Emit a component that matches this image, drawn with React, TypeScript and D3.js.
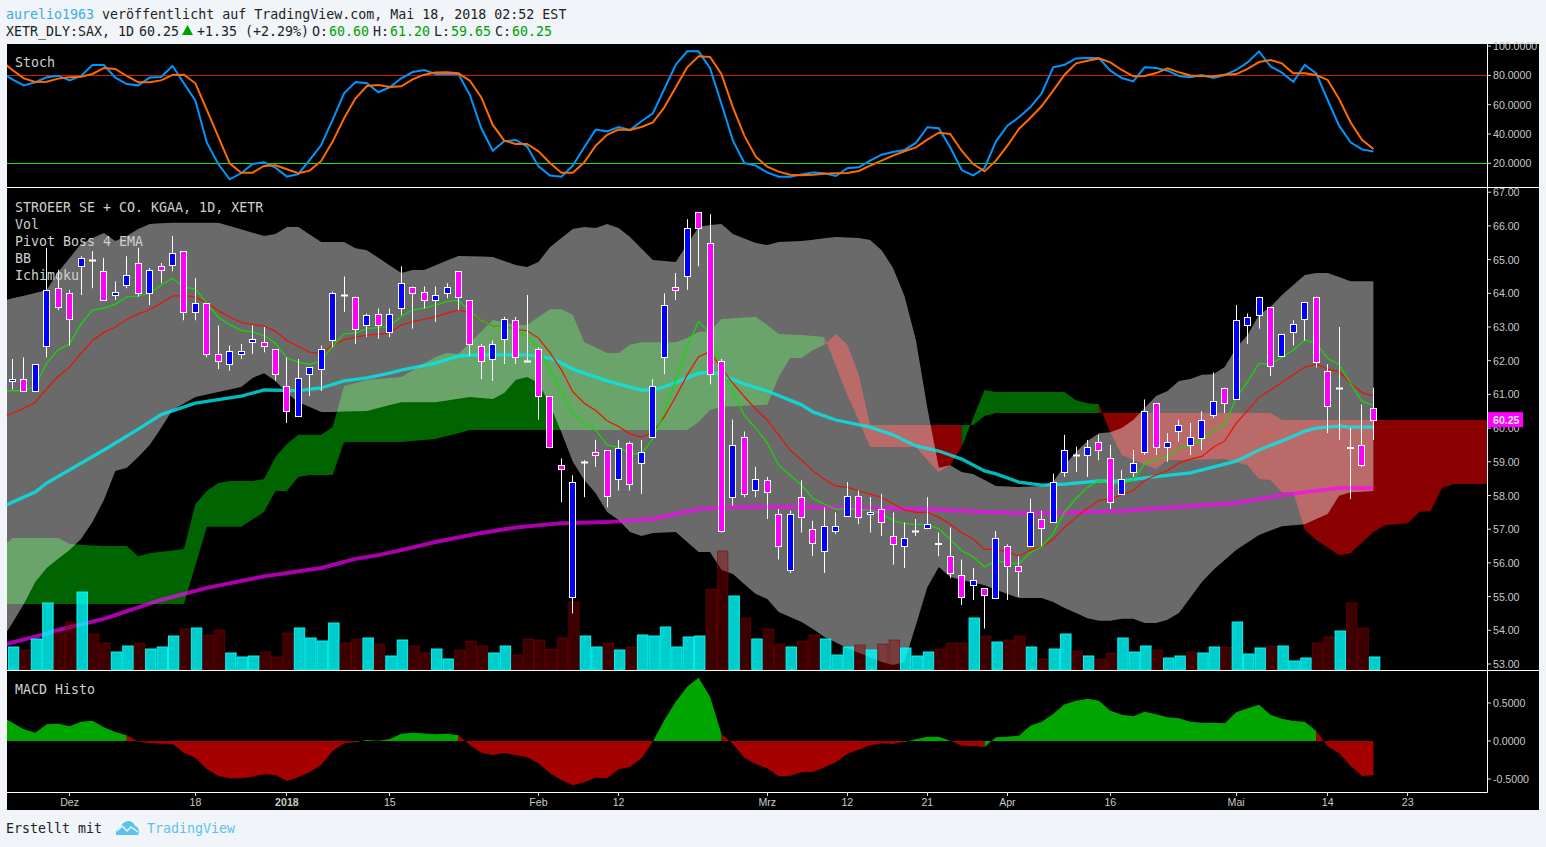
import React from "react";
import * as d3 from "d3";

// ---------- candles (bar 0 .. 119) ----------
const opens = [61.4,61.45,61.1,62.45,64.15,64.0,64.8,65.0,64.65,63.95,64.25,64.9,64.0,64.8,64.85,65.25,63.45,63.7,62.2,61.9,62.2,62.55,62.55,62.35,61.25,60.35,61.6,61.75,62.6,63.95,63.9,63.05,63.4,62.85,63.55,64.2,64.05,63.8,64.0,64.65,63.8,62.45,62.05,62.65,63.2,62.0,62.35,60.95,58.9,55.0,59.0,59.3,59.35,58.5,59.55,58.95,59.75,62.1,64.2,64.5,66.4,65.5,62.0,57.95,59.75,58.15,58.45,57.45,55.8,57.95,57.0,56.35,56.95,57.4,58.0,57.45,57.6,56.8,56.5,56.95,57.05,56.6,56.2,55.65,55.35,55.25,54.95,56.5,55.9,56.5,57.3,57.2,58.7,59.2,59.2,59.6,59.1,58.05,58.7,59.3,60.75,59.45,59.9,59.5,59.7,60.4,61.2,60.85,63.05,63.35,63.6,62.15,62.85,63.25,63.9,61.7,61.2,59.4,59.5,60.6];
const closes = [61.45,61.1,61.9,64.1,63.6,63.25,65.05,65.0,63.8,64.05,64.55,64.0,64.7,64.7,65.2,63.45,63.7,62.2,62.0,62.3,62.3,62.65,62.45,61.6,60.5,61.5,61.8,62.35,64.0,63.95,62.95,63.35,63.05,63.4,64.3,64.0,63.8,63.95,64.2,63.9,62.5,62.0,62.5,63.25,62.1,62.0,60.95,59.45,58.8,58.4,59.0,59.2,58.0,59.4,58.35,59.3,61.25,63.65,64.1,65.95,65.95,61.6,56.95,59.5,58.05,58.5,58.1,56.5,57.45,57.35,56.6,57.1,57.1,58.0,57.35,57.5,57.2,56.55,56.75,56.95,57.15,56.55,55.7,55.0,55.5,55.05,56.75,55.9,55.75,57.5,57.05,58.4,59.35,59.2,59.45,59.35,57.8,58.5,58.95,60.5,59.45,59.6,60.1,59.75,60.25,60.8,60.75,63.2,63.3,63.9,61.85,62.8,63.1,63.75,61.95,60.65,61.2,59.45,58.9,60.25];
const highs = [62.05,62.1,61.9,65.35,64.7,64.1,65.1,65.25,65.05,64.35,65.1,65.35,64.75,64.9,65.7,65.25,64.45,63.7,63.05,62.45,62.5,63.05,63.0,62.35,62.1,62.05,61.8,62.45,64.05,64.5,63.9,63.4,63.55,63.55,64.8,64.2,64.2,64.2,64.3,64.65,63.8,62.5,62.6,63.3,63.3,63.95,62.4,60.95,59.1,58.6,59.05,59.65,59.35,59.65,59.6,59.65,61.45,64.0,64.6,66.2,66.4,66.35,62.05,60.25,59.9,58.85,58.55,57.6,57.55,58.45,57.25,57.65,57.5,58.4,58.15,57.95,58.05,57.5,57.2,57.3,57.95,56.9,57.05,56.1,55.85,55.25,56.95,56.55,56.2,57.9,57.55,58.65,59.8,59.45,59.65,59.8,59.5,58.75,59.35,60.85,60.75,59.85,60.25,60.15,60.5,61.65,61.2,63.65,63.4,63.9,63.6,62.8,63.2,63.75,63.9,61.9,63.0,60.0,60.7,61.2];
const lows = [61.15,61.1,61.1,62.1,63.5,62.45,63.95,64.15,63.8,63.8,64.15,63.9,63.65,64.3,64.65,63.2,63.2,62.1,61.75,61.7,62.05,62.2,62.25,61.4,60.15,60.35,60.95,61.1,62.4,63.45,62.5,62.7,62.65,62.7,63.35,62.95,63.55,63.15,63.85,63.5,62.15,61.45,61.4,61.9,61.9,61.95,60.25,59.4,57.8,54.5,57.95,58.85,57.65,58.15,58.15,58.05,59.7,61.6,63.8,64.1,64.8,61.3,56.9,57.7,57.95,57.95,57.3,56.1,55.7,56.9,56.2,55.7,56.85,57.4,57.15,56.9,56.8,55.95,55.85,56.8,57.0,56.2,55.55,54.75,54.9,54.05,54.95,54.9,55.0,56.5,56.5,57.2,58.55,58.7,58.55,59.05,57.6,58.05,58.55,59.2,59.2,59.0,59.6,59.2,59.35,60.3,60.45,60.85,62.5,62.95,61.55,62.15,62.45,62.6,61.8,59.85,59.65,57.9,58.85,59.65];

// ---------- volume (bar 0 .. 119), arbitrary units ----------
const volumes = [23,20,31,67,38,48,78,36,27,18,24,27,21,23,34,41,42,35,40,17,13,14,18,13,37,42,32,29,47,27,31,32,26,14,30,24,17,21,11,20,29,24,17,24,15,31,30,21,32,68,34,23,27,20,23,35,34,43,23,33,34,81,119,74,52,31,41,26,23,29,35,31,15,23,25,20,26,30,22,14,18,21,27,27,52,34,28,30,34,23,11,21,36,19,14,11,17,32,18,24,20,12,14,18,17,23,23,48,16,22,24,24,9,12,27,33,39,67,42,13];
const volumeUp = [1,0,1,1,0,0,1,0,0,1,1,0,1,1,1,0,1,0,0,1,1,1,0,0,0,1,1,1,1,0,0,1,0,1,1,0,0,1,1,0,0,0,1,1,0,0,0,0,0,0,1,1,0,1,0,1,1,1,1,1,1,0,0,1,0,1,0,0,1,0,0,1,1,1,0,1,0,0,1,1,1,0,0,0,1,0,1,0,0,1,0,1,1,0,1,0,0,1,1,1,0,1,1,0,1,1,0,1,1,1,0,1,1,1,0,0,1,0,0,1];

// ---------- per-bar lines (bar -1 .. 119) ----------
const pivotFast = [61.08,61.11,61.11,61.24,61.93,62.32,62.5,63.09,63.5,63.56,63.68,63.89,63.92,64.0,64.24,64.45,64.18,64.13,63.71,63.29,63.07,62.9,62.85,62.75,62.52,62.08,61.96,61.89,61.99,62.42,62.8,62.82,62.95,62.98,63.03,63.31,63.51,63.56,63.65,63.76,63.79,63.46,63.19,63.03,63.01,62.91,62.72,62.37,61.72,61.08,60.43,60.16,59.94,59.5,59.43,59.25,59.23,59.69,60.48,61.42,62.42,63.16,62.81,61.73,61.08,60.38,59.99,59.56,58.9,58.6,58.31,57.91,57.74,57.59,57.62,57.59,57.57,57.47,57.25,57.17,57.14,57.14,57.01,56.7,56.36,56.18,55.88,56.06,56.01,55.98,56.3,56.48,56.87,57.52,57.91,58.24,58.44,58.35,58.35,58.46,58.94,59.06,59.17,59.4,59.48,59.65,59.93,60.1,60.89,61.38,61.92,61.88,62.1,62.32,62.62,62.52,62.07,61.89,61.33,60.8,60.67];
const pivotSlow = [60.3,60.44,60.59,60.76,61.17,61.53,61.81,62.22,62.6,62.84,63.0,63.23,63.39,63.51,63.71,63.92,63.93,63.89,63.71,63.49,63.29,63.14,63.07,63.03,62.87,62.6,62.42,62.25,62.22,62.47,62.62,62.7,62.76,62.79,62.82,63.06,63.16,63.23,63.31,63.41,63.51,63.41,63.19,63.03,63.01,62.93,62.89,62.67,62.24,61.73,61.08,60.74,60.52,60.22,60.05,59.83,59.73,59.87,60.34,60.93,61.58,62.12,62.27,61.78,61.33,60.93,60.56,60.24,59.79,59.35,59.05,58.73,58.48,58.28,58.24,58.14,58.04,57.94,57.76,57.57,57.5,57.5,57.35,57.15,56.9,56.71,56.4,56.4,56.33,56.2,56.38,56.48,56.7,57.06,57.35,57.62,57.86,57.9,58.02,58.15,58.44,58.61,58.74,58.96,59.08,59.16,59.43,59.62,60.14,60.52,60.92,61.13,61.35,61.58,61.81,61.9,61.75,61.68,61.33,61.06,60.95];
const stochK = [82,77.3,73.2,75.3,78.7,79.8,76.6,79.6,87.1,87.1,78.5,74.1,73.2,78.5,78.9,86.4,74.6,62.8,34.1,19.5,9.1,13.2,19.5,20.7,17.0,10.9,12.7,22.3,32.5,49.6,67.8,75.5,74.6,68.5,71.9,78,82.3,83.7,81,81,81,66.6,43.9,28.6,35,35.9,31.4,17.9,11.6,10.9,18.4,30.9,43,41.8,44.8,42.7,48.7,54.1,70.7,87.3,96.4,96.4,85,60.5,35.5,20.2,18.4,13.8,10.9,10.9,12.3,13.8,13.2,11.3,16.6,17.3,21.8,25.9,27.7,29.1,33.9,44.6,43.9,30.9,15.4,11.8,16.8,35,45.7,51.4,58.2,67.8,85.5,87.3,91.6,91.9,91.9,83.2,78.2,75.9,85.5,85,83.2,79.6,78.7,80.3,78.2,80.3,83.7,88.9,96.4,86.2,81.9,75.7,87.1,81.4,63.2,45.7,34.3,29.5,28];
const stochD = [90,83.7,78,75.5,75.7,77.8,78.7,79.1,81,85.1,84.4,79.6,75.3,75.3,76.6,80.3,80.5,74.6,56.4,38.2,20,13.6,13.6,18.2,18.6,15.9,13.2,15,21.6,34.8,50.7,64.4,72.8,73.5,72.1,72.6,77.3,80.5,81.9,82.1,81.4,76.4,65,46.2,35.5,33.2,33.2,28.2,20.2,13.6,13.6,20.7,32,39.5,43,42.7,44.8,47.9,58.2,71.9,85.5,93,92.6,80.9,58.2,38.9,24.5,17.7,14.3,12.2,11.8,12.2,12.9,13.2,13.4,14.8,18.4,21.8,25.2,28.2,30.9,36.1,40.9,40,28.6,19.5,14.5,21.8,32,43.4,50.9,59.1,69.6,80.5,88.2,90,91.6,88.9,83.7,79.4,79.6,81.6,84.8,82.1,80,79.6,79.4,80.5,80.9,84.4,89.1,90.5,88.2,81.4,81.4,80.3,76.9,63.9,48,36.1,29.8];
const macdHist = [0.33,0.241,0.153,0.11,0.22,0.228,0.193,0.254,0.268,0.18,0.118,0.075,-0.005,-0.026,-0.035,-0.04,-0.154,-0.224,-0.368,-0.46,-0.491,-0.491,-0.469,-0.439,-0.447,-0.526,-0.478,-0.408,-0.316,-0.132,-0.031,-0.013,0.013,0.004,0.026,0.096,0.11,0.1,0.088,0.096,0.075,-0.053,-0.154,-0.184,-0.158,-0.184,-0.215,-0.294,-0.425,-0.513,-0.583,-0.544,-0.482,-0.491,-0.373,-0.342,-0.228,-0.005,0.276,0.518,0.715,0.833,0.583,0.092,-0.04,-0.219,-0.303,-0.36,-0.465,-0.456,-0.412,-0.408,-0.346,-0.281,-0.167,-0.114,-0.057,-0.031,-0.039,-0.013,0.022,0.057,0.057,0.004,-0.061,-0.066,-0.079,0.048,0.057,0.07,0.202,0.254,0.355,0.482,0.531,0.557,0.531,0.399,0.346,0.325,0.386,0.351,0.311,0.298,0.254,0.241,0.241,0.232,0.377,0.43,0.478,0.346,0.294,0.263,0.254,0.132,-0.07,-0.162,-0.325,-0.46,-0.452];

// ---------- lines read at their visible corners: bar numbers, then values ----------
const ema100Bars = [-1,2,3,8,11,13,14,16,20,22,25,27,29,31,33,34,37,39,41,45,47,48,49,52,55,56,57,59,60,61,62,64,66,69,70,72,75,77,79,81,83,85,86,88,90,92,95,97,99,103,106,107,109,111,113,114,116,117,119];
const ema100Vals = [57.65,58.1,58.37,59.35,59.97,60.4,60.51,60.74,60.95,61.13,61.11,61.19,61.4,61.49,61.63,61.72,61.93,62.14,62.17,62.17,62.08,61.93,61.75,61.4,61.13,61.13,61.22,61.49,61.63,61.66,61.58,61.31,61.1,60.69,60.48,60.24,60.03,59.8,59.47,59.32,59.08,58.73,58.64,58.4,58.31,58.34,58.43,58.43,58.52,58.67,58.93,59.02,59.35,59.62,59.91,60.0,60.06,60.03,60.03];
const ema200Bars = [-1,3,4,8,13,17,22,27,30,32,34,37,41,44,48,52,56,58,60,63,68,73,80,85,88,91,97,98,107,111,113,116,119];
const ema200Vals = [53.55,53.9,54.01,54.34,54.9,55.26,55.6,55.85,56.12,56.23,56.38,56.62,56.89,57.05,57.18,57.21,57.3,57.45,57.6,57.66,57.67,57.63,57.6,57.51,57.48,57.48,57.54,57.57,57.78,58.01,58.1,58.22,58.22];

const bbUpperBars = [-1,2,3,4,5,6,7,8,9,10,11,12,14,18,20,22,23,24,25,27,29,30,31,34,35,36,39,42,44,45,46,47,49,50,51,52,53,54,56,58,59,60,61,62,63,65,66,67,69,72,74,75,76,77,78,79,80,81,82,83,84,85,86,88,90,91,92,93,94,95,96,97,98,99,100,101,102,103,104,105,106,107,108,109,110,111,112,113,114,115,116,117,119];
const bbUpperVals = [63.77,64.01,64.1,64.63,65.05,65.46,65.64,65.79,65.55,65.7,65.91,66.06,66.09,66.09,65.9,65.7,65.76,65.97,65.97,65.52,65.52,65.34,65.28,64.6,64.69,64.69,65.11,65.08,64.84,64.78,64.93,65.37,65.91,65.97,65.94,66.06,65.94,65.67,64.99,64.93,65.45,65.97,66.03,66.06,65.76,65.49,65.43,65.52,65.55,65.67,65.64,65.58,65.28,64.75,63.92,62.61,60.6,58.82,58.9,58.7,58.64,58.46,58.28,58.25,58.28,58.4,58.9,59.29,59.62,59.85,59.88,60.0,60.24,60.6,60.95,61.1,61.4,61.46,61.58,61.6,61.81,62.38,62.76,63.36,63.59,63.95,64.25,64.54,64.6,64.6,64.48,64.36,64.36];
const bbLowerBars = [-1,0,1,2,3,4,5,6,7,8,9,10,11,12,13,14,16,18,20,21,22,23,24,25,27,28,31,34,37,40,42,43,44,45,46,47,48,49,50,51,52,53,54,55,56,58,59,60,61,62,63,64,65,66,67,69,70,71,73,76,77,78,79,80,81,82,83,85,86,88,90,91,92,94,95,96,97,98,99,100,101,102,104,105,107,109,111,113,115,116,117,119];
const bbLowerVals = [53.68,54.22,54.78,55.43,55.85,56.12,56.38,56.71,57.21,57.87,58.73,58.82,59.14,59.5,60.0,60.54,60.92,61.07,61.22,61.49,61.63,61.4,61.04,60.77,60.48,60.48,60.51,60.77,60.77,60.92,60.86,61.04,61.43,61.52,61.34,60.69,59.88,59.0,58.46,58.07,57.51,57.27,56.92,56.8,56.89,56.92,56.62,56.32,56.32,55.79,55.67,55.37,55.08,54.93,54.54,54.25,54.04,53.8,53.47,53.06,52.97,53.06,54.16,55.28,55.88,55.58,55.49,55.34,55.2,54.96,54.96,54.84,54.66,54.36,54.28,54.28,54.34,54.34,54.22,54.22,54.31,54.51,55.43,55.79,56.38,56.83,57.09,57.15,57.45,57.99,58.1,58.13];

const spanABars = [-1,0,4,5,8,10,11,12,15,16,17,18,19,21,22,23,24,25,27,28,29,31,34,37,38,39,40,42,44,45,47,48,49,50,52,53,54,55,58,59,60,61,62,65,66,67,69,71,72,73,74,75,79,80,81,82,83,84,85,86,92,93,94,95,96,97,98,100,101,106,108,109,110,111,112,113,114,116,117,119,120,122,123,124,125,126,130];
const spanAVals = [56.41,56.74,56.74,56.56,56.5,56.5,56.2,56.29,56.41,57.75,58.13,58.37,58.43,58.43,58.49,59.14,59.53,59.8,59.8,60.03,61.25,61.43,61.52,62.11,62.23,62.2,62.53,63.21,63.06,63.06,63.53,63.53,63.36,62.55,62.23,62.23,62.47,62.55,62.55,62.67,62.85,62.88,63.24,63.3,63.06,62.79,62.76,62.7,61.84,60.98,60.24,59.44,59.44,59.05,58.7,58.9,59.44,60.3,61.13,61.07,61.07,60.83,60.74,60.71,59.88,59.2,59.05,58.79,59.05,59.08,58.9,58.49,58.46,58.1,58.1,56.98,56.68,56.23,56.29,56.92,57.12,57.18,57.51,57.54,58.22,58.34,58.34];
const spanBBars = [-1,15,17,20,22,23,24,25,26,28,29,34,37,39,40,59,60,61,62,66,67,68,69,70,71,72,73,74,75,84,85,86,110,111,130];
const spanBVals = [54.78,54.78,57.07,57.07,57.51,58.13,58.13,58.55,58.61,58.61,59.59,59.59,59.68,59.85,59.94,59.94,60.18,60.54,60.63,60.69,61.52,62.08,62.08,62.32,62.47,62.79,62.47,61.58,60.09,60.09,60.36,60.45,60.45,60.24,60.24];

// ---------- axes ----------
const priceTicks = [67,66,65,64,63,62,61,60,59,58,57,56,55,54,53];
const stochTicks = [100,80,60,40,20];
const macdTicks = [0.5,0,-0.5];
const timeLabels = ["Dez","18","2018","15","Feb","12","Mrz","12","21","Apr","16","Mai","14","23"];
const timeBars = [5,16,24,33,46,53,66,73,80,87,96,107,115,122];
const paneLabels = ["STROEER SE + CO. KGAA, 1D, XETR","Vol","Pivot Boss 4 EMA","BB","Ichimoku"];

const MONO = "'DejaVu Sans Mono', monospace";
const SANS = "'Liberation Sans', Arial, sans-serif";
const LEFT = 7, AXIS = 1487, RIGHT = 1539;

const x = d3.scaleLinear().domain([0, 119]).range([12.4, 1373.4]);
const yP = d3.scaleLinear().domain([53, 67]).range([664, 192.2]);
const yS = d3.scaleLinear().domain([20, 100]).range([163.3, 46.1]);
const yM = d3.scaleLinear().domain([-0.5, 0.5]).range([779, 703]);
const yV = d3.scaleLinear().domain([0, 119]).range([670, 551]);

const pts = (vals: number[]) => vals.map((v, i) => [i - 1, v] as [number, number]);
const zipped = (b: number[], v: number[]) => b.map((n, i) => [n, v[i]] as [number, number]);
const lineOn = (y: d3.ScaleLinear<number, number>) =>
  d3.line<[number, number]>().x((d) => x(d[0])).y((d) => y(d[1]));

const barsAll = d3.range(-1, 120);
const cloudBars = d3.range(-1, 131);
const bbUp = d3.scaleLinear().domain(bbUpperBars).range(bbUpperVals);
const bbLo = d3.scaleLinear().domain(bbLowerBars).range(bbLowerVals);
const spanA = d3.scaleLinear().domain(spanABars).range(spanAVals);
const spanB = d3.scaleLinear().domain(spanBBars).range(spanBVals);

const bbPath = d3.area<number>().x((b) => x(b)).y0((b) => yP(bbLo(b))).y1((b) => yP(bbUp(b)))(barsAll)!;

// Each span between two bars takes the colour of the bar it ends on, as the platform paints it.
function runs(bars: number[], up: (b: number) => boolean) {
  const out: { up: boolean; bars: number[] }[] = [];
  for (let i = 1; i < bars.length; i++) {
    const u = up(bars[i]);
    const last = out[out.length - 1];
    if (last && last.up === u) last.bars.push(bars[i]);
    else out.push({ up: u, bars: [bars[i - 1], bars[i]] });
  }
  return out;
}
const cloudRuns = runs(cloudBars, (b) => spanA(b) >= spanB(b));
const cloudArea = d3.area<number>().x((b) => x(b)).y0((b) => yP(spanB(b))).y1((b) => yP(spanA(b)));
const macdRuns = runs(barsAll, (b) => macdHist[b + 1] >= 0);
const macdArea = d3.area<number>().x((b) => x(b)).y0(yM(0)).y1((b) => yM(macdHist[b + 1]));

function Candles() {
  return (
    <g>
      {opens.map((o, i) => {
        const c = closes[i];
        const cx = Math.floor(x(i)) + 0.5;
        const t = Math.round(yP(Math.max(o, c))) + 0.5;
        const b = Math.round(yP(Math.min(o, c))) + 0.5;
        return (
          <g key={i}>
            <line x1={cx} x2={cx} y1={yP(highs[i])} y2={yP(lows[i])} stroke="#fff" strokeWidth={1} />
            {o === c ? (
              <line x1={cx - 3.5} x2={cx + 3.5} y1={t} y2={t} stroke="#fff" strokeWidth={2} />
            ) : (
              <rect x={cx - 3} width={6} y={t} height={b - t} fill={c > o ? "#0000ff" : "#ff00ff"} stroke="#fff" strokeWidth={1} />
            )}
          </g>
        );
      })}
    </g>
  );
}

function Volume() {
  const w = x(1) - x(0);
  return (
    <g>
      {volumes.map((v, i) => (
        <rect
          key={i}
          x={x(i) + 1.2 - w / 2 + 0.5}
          width={w - 1}
          y={yV(v)}
          height={670 - yV(v)}
          fill={volumeUp[i] ? "rgba(0,255,255,0.8)" : "rgba(139,0,0,0.43)"}
          stroke={volumeUp[i] ? "rgba(0,255,255,0.95)" : "rgba(139,0,0,0.55)"}
          strokeWidth={1}
        />
      ))}
    </g>
  );
}

const axisText = { fontFamily: SANS, fontSize: 10.6, fill: "#c8c8c8" };
const monoText = { fontFamily: MONO, fontSize: 13.3, fill: "#cfcfcf" };
const GREEN = "#00a000";

export default function App() {
  return (
    <svg width={1546} height={847} style={{ position: "fixed", left: 0, top: 0 }}>
      <defs>
        <clipPath id="stochClip"><rect x={LEFT} y={44} width={AXIS - LEFT} height={143} /></clipPath>
        <clipPath id="mainClip"><rect x={LEFT} y={188} width={AXIS - LEFT} height={482} /></clipPath>
        <clipPath id="macdClip"><rect x={LEFT} y={671} width={AXIS - LEFT} height={121} /></clipPath>
      </defs>
      <rect width={1546} height={847} fill="#f1f4f8" />
      <rect x={LEFT} y={44} width={RIGHT - LEFT} height={766} fill="#000" />

      {/* stochastic */}
      <g clipPath="url(#stochClip)">
        <line x1={LEFT} x2={AXIS} y1={Math.round(yS(80)) + 0.5} y2={Math.round(yS(80)) + 0.5} stroke="#c81e00" />
        <line x1={LEFT} x2={AXIS} y1={Math.round(yS(20)) + 0.5} y2={Math.round(yS(20)) + 0.5} stroke="#22dd11" />
        <path d={lineOn(yS)(pts(stochK))!} fill="none" stroke="#0096ff" strokeWidth={2} />
        <path d={lineOn(yS)(pts(stochD))!} fill="none" stroke="#ff6a00" strokeWidth={2} />
      </g>

      {/* price pane */}
      <g clipPath="url(#mainClip)">
        {cloudRuns.map((r, i) => (
          <path key={i} d={cloudArea(r.bars)!} fill={r.up ? "#006400" : "#8b0000"} />
        ))}
        <path d={bbPath} fill="rgba(255,255,255,0.416)" />
        <path d={lineOn(yP)(zipped(ema200Bars, ema200Vals))!} fill="none" stroke="rgba(255,0,255,0.67)" strokeWidth={4} />
        <path d={lineOn(yP)(zipped(ema100Bars, ema100Vals))!} fill="none" stroke="rgba(0,235,235,0.8)" strokeWidth={3.3} />
        <Volume />
        <path d={lineOn(yP)(pts(pivotSlow))!} fill="none" stroke="#ee1100" strokeWidth={1.2} />
        <path d={lineOn(yP)(pts(pivotFast))!} fill="none" stroke="#11dd00" strokeWidth={1.2} />
        <Candles />
      </g>

      {/* MACD */}
      <g clipPath="url(#macdClip)">
        {macdRuns.map((r, i) => (
          <path key={i} d={macdArea(r.bars)!} fill={r.up ? "#00a500" : "#a60000"} />
        ))}
      </g>

      {/* frame */}
      <line x1={LEFT} x2={RIGHT} y1={187.5} y2={187.5} stroke="#fff" />
      <line x1={LEFT} x2={RIGHT} y1={670.5} y2={670.5} stroke="#fff" />
      <line x1={LEFT} x2={AXIS + 0.5} y1={792.5} y2={792.5} stroke="#fff" />
      <line x1={AXIS + 0.5} x2={AXIS + 0.5} y1={44} y2={792.5} stroke="#fff" />

      {/* right axes */}
      {stochTicks.map((t) => (
        <g key={t}>
          <line x1={AXIS} x2={AXIS + 4} y1={yS(t)} y2={yS(t)} stroke="#ddd" />
          <text x={AXIS + 6} y={yS(t) + 4} {...axisText}>{t.toFixed(4)}</text>
        </g>
      ))}
      {priceTicks.map((t) => (
        <g key={t}>
          <line x1={AXIS} x2={AXIS + 4} y1={yP(t)} y2={yP(t)} stroke="#ddd" />
          <text x={AXIS + 6} y={yP(t) + 4} {...axisText}>{t.toFixed(2)}</text>
        </g>
      ))}
      {macdTicks.map((t) => (
        <g key={t}>
          <line x1={AXIS} x2={AXIS + 4} y1={yM(t)} y2={yM(t)} stroke="#ddd" />
          <text x={AXIS + 6} y={yM(t) + 4} {...axisText}>{t.toFixed(4)}</text>
        </g>
      ))}
      <rect x={AXIS + 1} y={yP(closes[119]) - 7.5} width={35} height={15} fill="#ff00ff" />
      <text x={AXIS + 6} y={yP(closes[119]) + 4} {...axisText} fill="#e8e8e8" fontWeight="bold">{closes[119].toFixed(2)}</text>

      {/* time axis */}
      {timeBars.map((b, i) => (
        <g key={i}>
          <line x1={Math.floor(x(b)) + 0.5} x2={Math.floor(x(b)) + 0.5} y1={792} y2={796} stroke="#ddd" />
          <text
            x={x(b)}
            y={806}
            textAnchor="middle"
            {...axisText}
            fontWeight={timeLabels[i] === "2018" ? "bold" : "normal"}
          >
            {timeLabels[i]}
          </text>
        </g>
      ))}

      {/* pane captions */}
      <text x={15} y={67} {...monoText}>Stoch</text>
      {paneLabels.map((t, i) => (
        <text key={t} x={15} y={212 + i * 17} {...monoText}>{t}</text>
      ))}
      <text x={15} y={694} {...monoText}>MACD Histo</text>

      {/* header */}
      <g fontFamily={MONO} fontSize={13.3} fill="#222">
        <text x={6} y={19}><tspan fill="#37aee2">aurelio1963</tspan> veröffentlicht auf TradingView.com, Mai 18, 2018 02:52 EST</text>
        <text x={6} y={36}>XETR_DLY:SAX, 1D</text>
        <text x={139} y={36}>60.25</text>
        <path d="M182,35 L187.5,25 L193,35 Z" fill="#00a000" />
        <text x={197} y={36}>+1.35 (+2.29%)</text>
        <text x={312} y={36}>O:</text>
        <text x={329} y={36} fill={GREEN}>60.60</text>
        <text x={373} y={36}>H:</text>
        <text x={390} y={36} fill={GREEN}>61.20</text>
        <text x={434} y={36}>L:</text>
        <text x={451} y={36} fill={GREEN}>59.65</text>
        <text x={495} y={36}>C:</text>
        <text x={512} y={36} fill={GREEN}>60.25</text>
      </g>

      {/* footer */}
      <g fontFamily={MONO} fontSize={13.3}>
        <text x={6} y={833} fill="#222">Erstellt mit</text>
        <path d="M116,835 Q115,829 120,828 Q122,822 128,821 Q133,821 135,826 Q139,827 139,832 L138,835 Z" fill="#5bc3ea" />
        <path d="M117,831 L122,826 L127,831 L131,827 L138,832" fill="none" stroke="#f1f4f8" strokeWidth={1.4} />
        <text x={147} y={833} fill="#5bc3ea">TradingView</text>
      </g>
    </svg>
  );
}
